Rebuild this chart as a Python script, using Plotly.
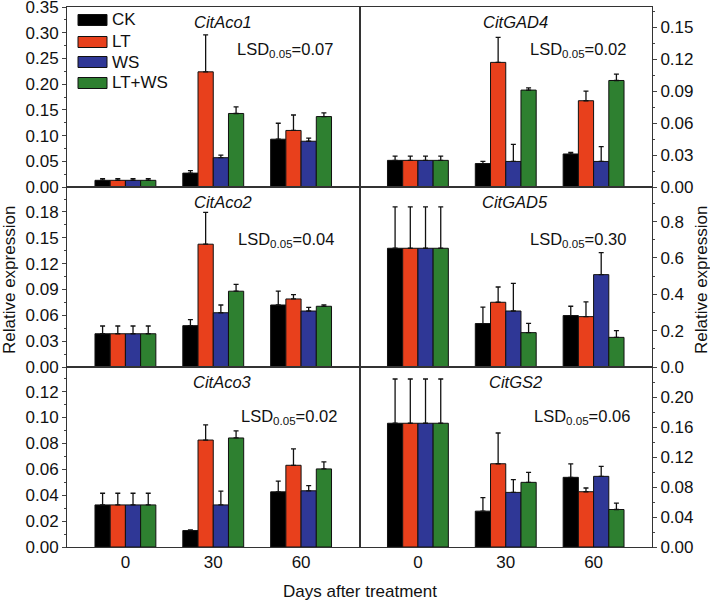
import plotly.graph_objects as go
from plotly.subplots import make_subplots

# ---------------- data ----------------
days = ["0", "30", "60"]
series = ["CK", "LT", "WS", "LT+WS"]
colors = ["#000000", "#E8401C", "#2F3796", "#2E8030"]

# rows: CK, LT, WS, LT+WS ; columns: day 0, 30, 60
aco1_mean = [[0.013, 0.027, 0.093], [0.013, 0.224, 0.110], [0.013, 0.057, 0.089], [0.013, 0.143, 0.137]]
aco1_err = [[0.003, 0.005, 0.031], [0.003, 0.072, 0.030], [0.003, 0.005, 0.006], [0.003, 0.013, 0.007]]

gad4_mean = [[0.025, 0.022, 0.031], [0.025, 0.117, 0.081], [0.025, 0.024, 0.024], [0.025, 0.091, 0.100]]
gad4_err = [[0.004, 0.002, 0.0015], [0.004, 0.0235, 0.009], [0.004, 0.016, 0.014], [0.004, 0.002, 0.006]]

aco2_mean = [[0.0386, 0.048, 0.072], [0.0386, 0.1426, 0.079], [0.0386, 0.063, 0.065], [0.0386, 0.088, 0.0705]]
aco2_err = [[0.009, 0.007, 0.016], [0.009, 0.037, 0.005], [0.009, 0.009, 0.0043], [0.009, 0.008, 0.0016]]

gad5_mean = [[0.653, 0.239, 0.283], [0.653, 0.356, 0.277], [0.653, 0.308, 0.508], [0.653, 0.189, 0.163]]
gad5_err = [[0.228, 0.090, 0.051], [0.228, 0.084, 0.081], [0.228, 0.152, 0.121], [0.228, 0.051, 0.037]]

aco3_mean = [[0.0325, 0.0127, 0.0426], [0.0325, 0.0826, 0.0631], [0.0325, 0.0325, 0.0434], [0.0325, 0.0842, 0.0603]]
aco3_err = [[0.009, 0.0006, 0.0083], [0.009, 0.0117, 0.0127], [0.009, 0.0106, 0.004], [0.009, 0.0055, 0.0055]]

gs2_mean = [[0.165, 0.0478, 0.0929], [0.165, 0.111, 0.0737], [0.165, 0.0728, 0.0942], [0.165, 0.0862, 0.050]]
gs2_err = [[0.059, 0.018, 0.018], [0.059, 0.041, 0.005], [0.059, 0.017, 0.0134], [0.059, 0.0134, 0.0085]]

gene_names = ["CitAco1", "CitGAD4", "CitAco2", "CitGAD5", "CitAco3", "CitGS2"]
lsd_values = ["0.07", "0.02", "0.04", "0.30", "0.02", "0.06"]

# y-axis tick labels per panel
ticks_aco1 = [0.00, 0.05, 0.10, 0.15, 0.20, 0.25, 0.30, 0.35]
ticks_gad4 = [0.00, 0.03, 0.06, 0.09, 0.12, 0.15]
ticks_aco2 = [0.00, 0.03, 0.06, 0.09, 0.12, 0.15, 0.18]
ticks_gad5 = [0.0, 0.2, 0.4, 0.6, 0.8]
ticks_aco3 = [0.00, 0.02, 0.04, 0.06, 0.08, 0.10, 0.12]
ticks_gs2 = [0.00, 0.04, 0.08, 0.12, 0.16, 0.20]

panels = [
    (1, 1, aco1_mean, aco1_err, ticks_aco1, "%.2f", [0, 0.3501], 0.025),
    (1, 2, gad4_mean, gad4_err, ticks_gad4, "%.2f", [0, 0.169], 0.015),
    (2, 1, aco2_mean, aco2_err, ticks_aco2, "%.2f", [0, 0.209], 0.015),
    (2, 2, gad5_mean, gad5_err, ticks_gad5, "%.1f", [0, 0.99], 0.1),
    (3, 1, aco3_mean, aco3_err, ticks_aco3, "%.2f", [0, 0.139], 0.01),
    (3, 2, gs2_mean, gs2_err, ticks_gs2, "%.2f", [0, 0.24], 0.02),
]

FONT = "Liberation Sans, Arial, sans-serif"
TXT = "#111111"

fig = make_subplots(rows=3, cols=2, horizontal_spacing=0, vertical_spacing=0)

for (r, c, mean, err, tv, fmt, yr, mdt) in panels:
    for i, s in enumerate(series):
        fig.add_trace(
            go.Bar(
                x=days, y=mean[i], name=s, showlegend=False,
                marker=dict(color=colors[i], line=dict(color="#111111", width=1)),
                error_y=dict(type="data", array=err[i], arrayminus=[0] * len(days),
                             symmetric=False, color="#111111", thickness=1.3, width=2.5),
            ),
            row=r, col=c,
        )
    fig.update_yaxes(
        row=r, col=c, range=yr, tickmode="array", tickvals=tv,
        ticktext=[fmt % v for v in tv],
        side="left" if c == 1 else "right",
        ticks="outside", ticklen=4, tickwidth=1, tickcolor="#444",
        minor=dict(dtick=mdt, tick0=0, ticks="outside", ticklen=2, tickcolor="#444"),
        showline=True, mirror=True, linecolor="#333", linewidth=1,
        showgrid=False, zeroline=False, ticklabeloverflow="allow",
        tickfont=dict(size=17, color=TXT, family=FONT),
    )
    fig.update_xaxes(
        row=r, col=c, range=[-0.665, 2.665], type="category",
        showline=True, mirror=True, linecolor="#333", linewidth=1,
        ticks="", showgrid=False, showticklabels=(r == 3),
        tickfont=dict(size=17, color=TXT, family=FONT),
    )

W, H = 710, 601
L, R, T, B = 67, 58, 7, 54

fig.update_layout(
    width=W, height=H,
    margin=dict(l=L, r=R, t=T, b=B, autoexpand=False),
    paper_bgcolor="white", plot_bgcolor="white",
    barmode="group", bargap=0.307, bargroupgap=0,
    showlegend=False,
    font=dict(family=FONT, color=TXT),
)

pw, ph = W - L - R, H - T - B
def px(x):
    return (x - L) / pw
def py(y):
    return (H - B - y) / ph

# panel titles and LSD labels
axis_ids = ["", "2", "3", "4", "5", "6"]
lsd_x = [0.915, 0.918, 0.918, 0.918, 0.93, 0.93]
lsd_y = [0.76, 0.76, 0.705, 0.705, 0.72, 0.72]
for k, aid in enumerate(axis_ids):
    fig.add_annotation(
        text="<i>%s</i>" % gene_names[k], xref="x%s domain" % aid, yref="y%s domain" % aid,
        x=0.533, y=0.915, xanchor="center", yanchor="middle", showarrow=False,
        font=dict(size=16.5, family=FONT, color=TXT),
    )
    fig.add_annotation(
        text="LSD<sub>0.05</sub>=%s" % lsd_values[k], xref="x%s domain" % aid, yref="y%s domain" % aid,
        x=lsd_x[k], y=lsd_y[k], xanchor="right", yanchor="middle", showarrow=False,
        font=dict(size=16.5, family=FONT, color=TXT),
    )

# legend (top-left panel)
leg_rows = [20, 42, 62, 83]  # pixel rows
for i, s in enumerate(series):
    yc = leg_rows[i]
    fig.add_shape(type="rect", xref="paper", yref="paper",
                  x0=px(78), x1=px(107), y0=py(yc + 5.5), y1=py(yc - 5.5),
                  fillcolor=colors[i], line=dict(color="#111", width=1))
    fig.add_annotation(text=s, xref="paper", yref="paper", x=px(110), y=py(yc),
                       xanchor="left", yanchor="middle", showarrow=False,
                       font=dict(size=17, family=FONT, color=TXT))

# axis titles
fig.add_annotation(text="Relative expression", xref="paper", yref="paper",
                   x=px(9), y=py(280), textangle=-90, showarrow=False,
                   xanchor="center", yanchor="middle",
                   font=dict(size=17, family=FONT, color=TXT))
fig.add_annotation(text="Relative expression", xref="paper", yref="paper",
                   x=px(701), y=py(280), textangle=-90, showarrow=False,
                   xanchor="center", yanchor="middle",
                   font=dict(size=17, family=FONT, color=TXT))
fig.add_annotation(text="Days after treatment", xref="paper", yref="paper",
                   x=px(360), y=py(591), showarrow=False,
                   xanchor="center", yanchor="middle",
                   font=dict(size=17, family=FONT, color=TXT))

fig.write_html("out.html", config={"displayModeBar": False},
               post_script="document.body.style.margin='0px';")
